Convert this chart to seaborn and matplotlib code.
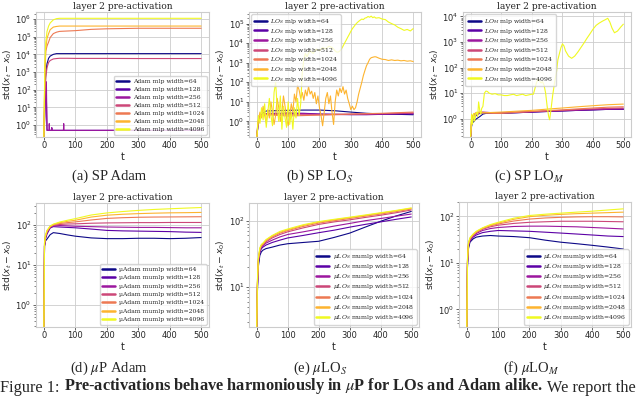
import numpy as np
import pandas as pd
import matplotlib
matplotlib.use("Agg")
import matplotlib.pyplot as plt
from matplotlib.lines import Line2D
from matplotlib.ticker import LogLocator
import seaborn as sns

widths = [64, 128, 256, 512, 1024, 2048, 4096]

# ---- (a) SP Adam ----
a_t = [0, 3, 6, 10, 15, 20, 30, 40, 50, 75, 100, 150, 200, 300, 400, 499]
a_64 = [0.2, 50, 800, 3000, 6000, 8000, 10000, 11000, 11000, 11000, 11000, 11000, 11000, 11000, 11000, 11000]
a_512 = [0.2, 30, 500, 1800, 3500, 4500, 5500, 5800, 6000, 6000, 5900, 5900, 5900, 5800, 5800, 5800]
a_1024 = [0.2, 500, 15000, 30000, 50000, 90000, 150000, 180000, 200000, 210000, 220000, 260000, 280000, 300000, 300000, 300000]
a_2048 = [0.2, 1000, 20000, 80000, 150000, 250000, 350000, 380000, 400000, 400000, 400000, 400000, 400000, 400000, 400000, 400000]
a_4096 = [0.2, 3000, 50000, 200000, 400000, 600000, 900000, 1050000, 1100000, 1100000, 1100000, 1100000, 1100000, 1100000, 1100000, 1100000]
a_low_t = [0, 3, 6, 8, 10, 12, 16, 17, 18, 24, 25, 26, 40, 62, 63, 64, 100, 200, 300, 400, 499]
a_128 = [0.2, 3, 150, 30, 0.5, 0.5, 0.5, 0.5, 0.5, 0.5, 0.7, 0.5, 0.5, 0.5, 0.5, 0.5, 0.5, 0.5, 0.5, 0.5, 0.5]
a_256 = [0.2, 5, 300, 250, 0.5, 0.5, 0.5, 1.2, 0.5, 0.5, 0.7, 0.5, 0.5, 0.5, 1.2, 0.5, 0.5, 0.5, 0.5, 0.5, 0.5]

# ---- (b) SP LO_S ----
b_t = [0, 3, 6, 10, 15, 20, 30, 50, 75, 100, 150, 200, 250, 300, 350, 400, 450, 499]
b_64 = [0.15, 0.5, 0.9, 1.5, 2.2, 2.8, 3.4, 3.5, 3.6, 3.7, 3.8, 3.8, 3.5, 3.0, 2.6, 2.4, 2.3, 2.2]
b_128 = [0.15, 0.5, 1.0, 1.6, 2.0, 2.3, 2.5, 2.6, 2.6, 2.7, 2.6, 2.4, 2.3, 2.2, 2.2, 2.3, 2.4, 2.4]
b_256 = [0.15, 0.6, 1.1, 1.7, 2.1, 2.3, 2.4, 2.5, 2.5, 2.6, 2.5, 2.3, 2.3, 2.3, 2.3, 2.4, 2.5, 2.6]
b_512 = [0.15, 0.7, 1.2, 1.8, 2.0, 2.2, 2.3, 2.3, 2.2, 2.2, 2.2, 2.2, 2.2, 2.3, 2.4, 2.5, 2.6, 2.7]
b_1024 = [0.15, 0.8, 1.3, 1.9, 2.0, 2.1, 2.2, 2.1, 2.0, 1.9, 2.0, 2.1, 2.3, 2.4, 2.5, 2.6, 2.8, 3.0]
b_noisy_t = [0, 5, 10, 15, 20, 25, 30, 35, 40, 45,
             50, 55, 60, 65, 70, 75, 80, 85, 90, 95,
             100, 105, 110, 115, 120, 125, 130, 135, 140, 145,
             150, 155, 160, 165, 170, 175, 180, 185, 190, 195,
             200, 205, 210, 215, 220, 225, 230, 235, 240, 245,
             250, 255, 260, 265, 270, 275, 280, 285, 290, 295,
             300, 305, 310, 315, 320, 325, 330, 335, 340, 345,
             350, 355, 360, 365, 370, 375, 380,
             390, 400, 410, 420, 430, 440, 450, 460, 470, 480, 490, 499]
b_2048 = [0.15, 1.2, 3, 1.5, 6, 2, 0.8, 4, 1.5, 10,
          3, 0.7, 2, 15, 5, 1, 3, 20, 6, 1.5,
          0.6, 2, 8, 3, 25, 10, 70, 40, 15, 30,
          12, 40, 20, 60, 25, 35, 15, 30, 8, 20,
          5, 2, 0.6, 3, 15, 30, 8, 20, 3, 0.7,
          10, 40, 20, 50, 30, 60, 25, 40, 15, 8,
          4, 6, 4, 5, 10, 25, 50, 100, 220, 400,
          700, 1000, 1500, 1800, 1900, 2000, 2000,
          1700, 1500, 1450, 1300, 1400, 1300, 1350, 1250, 1300, 1200, 1250, 1150]
b_4096 = [0.15, 2, 0.8, 5, 1.2, 8, 0.5, 3, 15, 2,
          0.6, 30, 100, 5, 1, 20, 0.4, 6, 1.5, 0.5,
          10, 0.7, 3, 0.4, 5, 1.5, 15, 2, 8, 300,
          1500, 3000, 2000, 3000, 4000, 3500, 3000, 4000, 5000, 4500,
          4000, 5000, 6000, 5500, 5000, 6000, 7000, 6500, 6000, 5000,
          4000, 3500, 3500, 4000, 5000, 7000, 10000, 14000, 20000, 28000,
          40000, 55000, 70000, 90000, 110000, 130000, 150000, 170000, 160000, 190000,
          200000, 230000, 210000, 240000, 200000, 220000, 190000,
          200000, 170000, 160000, 120000, 100000, 85000, 65000, 55000, 45000, 50000, 42000, 55000]

# ---- (c) SP LO_M ----
c_t = [0, 3, 6, 10, 15, 20, 30, 40, 50, 75, 100, 150, 200, 250, 300, 350, 400, 450, 499]
c_64 = [0.2, 0.5, 0.7, 0.75, 0.9, 1.0, 1.2, 1.5, 1.6, 1.6, 1.6, 1.7, 1.8, 1.9, 2.0, 2.1, 2.2, 2.3, 2.3]
c_128 = [0.2, 0.6, 0.8, 1.0, 1.2, 1.4, 1.6, 1.7, 1.7, 1.65, 1.65, 1.7, 1.8, 1.9, 2.0, 2.1, 2.2, 2.3, 2.35]
c_256 = [0.2, 0.7, 1.0, 1.3, 1.5, 1.6, 1.7, 1.75, 1.75, 1.7, 1.7, 1.75, 1.85, 1.95, 2.05, 2.15, 2.25, 2.35, 2.4]
c_512 = [0.2, 0.8, 1.1, 1.4, 1.6, 1.7, 1.8, 1.8, 1.75, 1.7, 1.7, 1.8, 1.9, 2.0, 2.1, 2.25, 2.4, 2.5, 2.6]
c_1024 = [0.2, 0.9, 1.2, 1.5, 1.6, 1.7, 1.75, 1.7, 1.65, 1.6, 1.6, 1.75, 1.9, 2.05, 2.2, 2.4, 2.6, 2.8, 2.9]
c_2048 = [0.2, 1.0, 1.3, 1.5, 1.6, 1.65, 1.7, 1.7, 1.7, 1.75, 1.8, 1.95, 2.1, 2.35, 2.6, 2.9, 3.2, 3.5, 3.7]
c_noisy_t = [0, 3, 6, 10, 13, 16, 20, 23, 26, 30,
             33, 36, 40, 45, 50, 55, 60, 70, 80, 90,
             100, 110, 120, 130, 140, 150, 160, 170, 180, 190,
             200, 205, 210, 215, 220, 225, 230, 235, 240, 245,
             250, 255, 258, 262, 268, 275, 280, 285, 290, 295,
             300, 305, 310, 320, 330, 340, 350, 360, 370, 380,
             390, 400, 410, 420, 430, 440, 448, 455, 462, 470,
             480, 490, 499]
c_4096 = [0.2, 1.5, 0.6, 1.6, 0.8, 1.4, 1.8, 1.2, 4.5, 2,
          1.5, 2.5, 3, 10, 12, 11.5, 10, 9, 9.5, 8.5,
          8.5, 8, 8, 8.5, 9, 8, 8.5, 9, 8, 8.5,
          9, 9, 15, 25, 35, 30, 25, 28, 20, 10,
          3, 1.2, 0.9, 2, 8, 30, 60, 200, 350, 600,
          850, 700, 450, 280, 230, 280, 400, 600, 900, 1400,
          2100, 3200, 4500, 5500, 6500, 7500, 8500, 6000, 3500, 2300,
          2700, 3800, 5000]

# ---- (d) muP Adam ----
d_t = [0, 2, 5, 10, 20, 30, 50, 75, 100, 150, 200, 250, 300, 350, 400, 450, 499]
d_64 = [0.25, 30, 40, 45, 58, 65, 62, 57, 53, 48, 46, 46, 47, 47, 46, 47, 49]
d_128 = [0.25, 30, 45, 60, 85, 92, 90, 88, 86, 80, 74, 72, 71, 70, 69, 67, 66]
d_256 = [0.25, 30, 48, 65, 88, 96, 98, 96, 94, 92, 90, 89, 88, 88, 87, 86, 86]
d_512 = [0.25, 32, 50, 68, 90, 100, 104, 107, 108, 112, 114, 115, 116, 116, 117, 117, 117]
d_1024 = [0.25, 34, 52, 70, 92, 102, 110, 116, 121, 135, 148, 154, 158, 160, 161, 162, 163]
d_2048 = [0.25, 35, 54, 72, 94, 104, 115, 125, 133, 160, 178, 188, 195, 200, 204, 206, 209]
d_4096 = [0.25, 36, 56, 74, 95, 106, 120, 133, 146, 180, 203, 220, 235, 248, 258, 268, 277]

# ---- (e) muLO_S ----
e_t = [0, 2, 5, 10, 15, 20, 30, 50, 75, 100, 150, 200, 250, 300, 350, 400, 450, 499]
e_64 = [2.4, 8, 20, 30, 34, 36, 38, 40, 43, 45, 47, 49, 56, 65, 80, 98, 118, 138]
e_128 = [2.4, 9, 22, 33, 38, 40, 43, 47, 51, 55, 60, 66, 72, 80, 88, 96, 105, 114]
e_256 = [2.4, 10, 23, 35, 40, 42, 46, 51, 57, 62, 68, 75, 83, 91, 100, 108, 117, 126]
e_512 = [2.4, 10, 24, 36, 41, 43, 48, 55, 62, 68, 78, 88, 96, 103, 112, 121, 132, 145]
e_1024 = [2.4, 11, 25, 37, 42, 44, 50, 57, 65, 71, 82, 92, 100, 108, 117, 126, 137, 150]
e_2048 = [2.4, 11, 26, 38, 43, 45, 51, 59, 67, 73, 85, 95, 103, 111, 120, 130, 141, 154]
e_4096 = [2.4, 12, 27, 39, 44, 46, 52, 60, 69, 75, 87, 97, 105, 113, 122, 132, 143, 156]

# ---- (f) muLO_M ----
f_t = [0, 2, 5, 10, 20, 30, 50, 75, 100, 150, 200, 250, 300, 350, 400, 450, 499]
f_64 = [0.4, 8, 20, 28, 33, 36, 38, 39, 38, 37, 35, 31, 28, 26, 24, 22, 20]
f_128 = [0.4, 9, 22, 30, 36, 40, 45, 48, 50, 49, 48, 46, 44, 42, 40, 38, 37]
f_256 = [0.4, 10, 23, 31, 38, 43, 50, 55, 58, 61, 62, 62, 61, 60, 58, 56, 54]
f_512 = [0.4, 10, 24, 32, 39, 45, 53, 60, 65, 71, 75, 77, 79, 79, 79, 78, 77]
f_1024 = [0.4, 11, 25, 33, 40, 46, 55, 63, 69, 80, 88, 93, 96, 98, 99, 99, 98]
f_2048 = [0.4, 11, 26, 34, 41, 47, 56, 65, 72, 87, 99, 106, 111, 115, 118, 121, 124]
f_4096 = [0.4, 12, 27, 35, 42, 48, 57, 67, 75, 92, 105, 112, 118, 124, 130, 138, 146]

sns.set_theme(style="whitegrid")
plt.rcParams["font.family"] = ["DejaVu Sans"]
plt.rcParams["grid.linewidth"] = 0.6
plt.rcParams["axes.linewidth"] = 0.8

colors = [plt.cm.plasma(v) for v in np.linspace(0, 1, len(widths))]

W, H = 640, 396
fig = plt.figure(figsize=(6.4, 3.96), dpi=100)


def px_box(left, right, top, bottom):
    return [left / W, 1 - bottom / H, (right - left) / W, (bottom - top) / H]


panels = [
    dict(box=px_box(36, 209, 12, 137),
         series=[(a_t, a_64), (a_low_t, a_128), (a_low_t, a_256), (a_t, a_512),
                 (a_t, a_1024), (a_t, a_2048), (a_t, a_4096)],
         ylim=(0.21, 2.5e6), label="Adam mlp width={}", loc="lower right",
         spacing=0.45, caption="(a) SP Adam", cap=(109, 180)),
    dict(box=px_box(249, 421, 12, 137),
         series=[(b_t, b_64), (b_t, b_128), (b_t, b_256), (b_t, b_512),
                 (b_t, b_1024), (b_noisy_t, b_2048), (b_noisy_t, b_4096)],
         ylim=(0.16, 3.9e5), label="$LO_S$ mlp width={}", loc="upper left",
         spacing=0.1, caption="(b) SP LO$_S$", cap=(320, 180)),
    dict(box=px_box(463, 631, 12, 137),
         series=[(c_t, c_64), (c_t, c_128), (c_t, c_256), (c_t, c_512),
                 (c_t, c_1024), (c_t, c_2048), (c_noisy_t, c_4096)],
         ylim=(0.19, 1.5e4), label="$LO_M$ mlp width={}", loc="upper left",
         spacing=0.1, caption="(c) SP LO$_M$", cap=(529, 180)),
    dict(box=px_box(36, 209, 203, 327),
         series=[(d_t, d_64), (d_t, d_128), (d_t, d_256), (d_t, d_512),
                 (d_t, d_1024), (d_t, d_2048), (d_t, d_4096)],
         ylim=(0.28, 360), label="µAdam mumlp width={}", loc="lower right",
         spacing=0.5, caption="(d) $\\mu$P Adam", cap=(109, 372)),
    dict(box=px_box(249, 419, 203, 327),
         series=[(e_t, e_64), (e_t, e_128), (e_t, e_256), (e_t, e_512),
                 (e_t, e_1024), (e_t, e_2048), (e_t, e_4096)],
         ylim=(2.5, 185), label="$\\mu LO_S$ mumlp width={}", loc="lower right",
         spacing=0.2, caption="(e) $\\mu$LO$_S$", cap=(320, 372)),
    dict(box=px_box(459, 631, 202, 327),
         series=[(f_t, f_64), (f_t, f_128), (f_t, f_256), (f_t, f_512),
                 (f_t, f_1024), (f_t, f_2048), (f_t, f_4096)],
         ylim=(0.42, 205), label="$\\mu LO_M$ mumlp width={}", loc="lower right",
         spacing=0.2, caption="(f) $\\mu$LO$_M$", cap=(531, 372)),
]

for p in panels:
    ax = fig.add_axes(p["box"])
    labels = [p["label"].format(w) for w in widths]
    frames = [pd.DataFrame({"t": t, "std": v, "run": lab})
              for (t, v), lab in zip(p["series"], labels)]
    df = pd.concat(frames, ignore_index=True)
    sns.lineplot(data=df, x="t", y="std", hue="run", hue_order=labels,
                 palette=colors, estimator=None, linewidth=0.8,
                 legend=False, ax=ax)
    ax.set_yscale("log")
    ax.set_ylim(*p["ylim"])
    ax.set_xlim(-25, 524)
    ax.set_xticks([0, 100, 200, 300, 400, 500])
    ax.yaxis.set_major_locator(LogLocator(base=10, numticks=15))
    ax.tick_params(axis="both", which="major", labelsize=6.0, pad=1.2,
                   length=2, width=0.5, left=True, bottom=True)
    ax.tick_params(axis="y", which="minor", length=1.2, width=0.4, left=True)
    ax.set_title("layer 2 pre-activation", fontsize=6.6, family="DejaVu Serif", pad=2.5)
    ax.set_xlabel("t", fontsize=7, labelpad=1)
    ax.set_ylabel("std($x_t - x_0$)", fontsize=6.6, labelpad=1)

    handles = [Line2D([], [], color=c, lw=1.8) for c in colors]
    leg = ax.legend(handles, labels, loc=p["loc"],
                    prop=dict(family="DejaVu Serif", size=4.4),
                    handlelength=2.1, labelspacing=p["spacing"], borderpad=0.4,
                    handletextpad=0.6, framealpha=0.8, borderaxespad=0.4)
    for txt in leg.get_texts():
        txt.set_math_fontfamily("dejavuserif")

    fig.text(p["cap"][0] / W, 1 - p["cap"][1] / H, p["caption"], ha="center",
             va="baseline", fontsize=10.5, family="Liberation Serif",
             math_fontfamily="stix")

# figure caption line at the bottom edge
fig.canvas.draw()
renderer = fig.canvas.get_renderer()
parts = [("Figure 1: ", "normal"),
         ("Pre-activations behave harmoniously in $\\mu$P for LOs and Adam alike.", "bold"),
         (" We report the", "normal")]
x = 0.0
for txt, weight in parts:
    t = fig.text(x, 0.0, txt, fontsize=11.8, fontweight=weight,
                 family="Liberation Serif", math_fontfamily="stix", va="bottom")
    bb = t.get_window_extent(renderer=renderer)
    x = bb.x1 / fig.bbox.width

fig.savefig("out.png", dpi=100)
